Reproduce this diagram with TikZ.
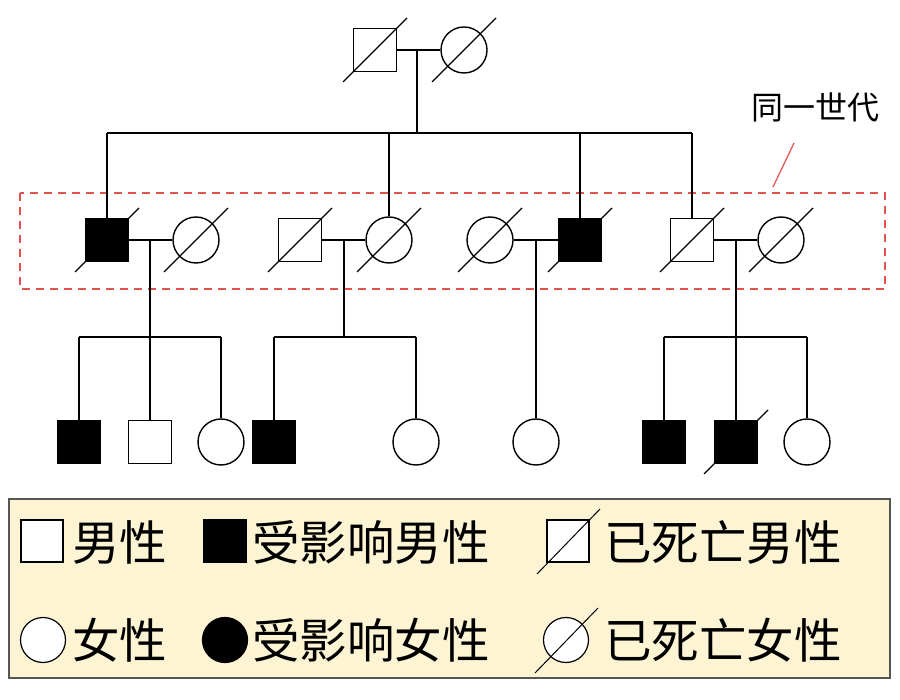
\documentclass[tikz,border=0pt]{standalone}
\usepackage{fontspec}
\setmainfont{Noto Sans CJK SC}
\definecolor{legfill}{RGB}{253,244,212}
\definecolor{legdraw}{RGB}{85,85,85}
\definecolor{gendash}{RGB}{228,80,80}
\tikzset{
  male/.style={draw, rectangle, minimum size=43pt, inner sep=0pt, line width=1.4pt, fill=white},
  female/.style={draw, circle, minimum size=46pt, inner sep=0pt, line width=1.4pt, fill=white},
  aff/.style={fill=black},
  lmale/.style={draw, rectangle, minimum size=42pt, inner sep=0pt, line width=1.2pt, fill=white},
  lfemale/.style={draw, circle, minimum size=45pt, inner sep=0pt, line width=1.2pt, fill=white},
  link/.style={line width=1.4pt},
  legtext/.style={anchor=west, inner sep=0pt, font=\fontsize{47.5pt}{50pt}\selectfont},
}
\newcommand{\deadmark}[1]{\draw[line width=1.4pt] ([shift={(-32,32)}]#1.center) -- ([shift={(32,-32)}]#1.center);}
\newcommand{\ldeadmark}[1]{\draw[line width=1pt] ([shift={(-31,33)}]#1.center) -- ([shift={(32,-32)}]#1.center);}
\begin{document}
\begin{tikzpicture}[x=1pt, y=-1pt]
\useasboundingbox (0,0) rectangle (900,700);
\fill[white] (0,0) rectangle (900,700);

% generation dashed box
\draw[gendash, line width=1.3pt, dash pattern=on 8pt off 6pt] (20,193) rectangle (885,289);
\coordinate (lblend) at (773,187);
\node[inner sep=0pt, font=\fontsize{32pt}{36pt}\selectfont] (lbl) at (815,107) {同一世代};
\draw[gendash, line width=1.2pt] (lblend) -- (794,143);

% generation 1
\node[male] (s0) at (375,50) {};
\node[female] (c0) at (464,50) {};
\deadmark{s0}\deadmark{c0}
\coordinate (m0) at (417,50);
\coordinate (b0) at (417,133);
\draw[link] (s0.east) -- (c0.west);
\draw[link] (m0) -- (b0);

% generation 2
\node[male,aff] (g1) at (107,240) {};
\node[female] (g2) at (196,240) {};
\node[male] (g3) at (300,240) {};
\node[female] (g4) at (389,240) {};
\node[female] (g5) at (490,240) {};
\node[male,aff] (g6) at (580,240) {};
\node[male] (g7) at (692,240) {};
\node[female] (g8) at (781,240) {};
\foreach \n in {g1,g2,g3,g4,g5,g6,g7,g8} {\deadmark{\n}}
\coordinate (t1) at (107,133);
\coordinate (t4) at (389,133);
\coordinate (t6) at (580,133);
\coordinate (t7) at (692,133);
\draw[link] (t1) -- (t7);
\draw[link] (t1) -- (g1.north);
\draw[link] (t4) -- (g4.north);
\draw[link] (t6) -- (g6.north);
\draw[link] (t7) -- (g7.north);

\draw[link] (g1.east) -- (g2.west);
\draw[link] (g3.east) -- (g4.west);
\draw[link] (g5.east) -- (g6.west);
\draw[link] (g7.east) -- (g8.west);

\coordinate (m1) at (150,240);
\coordinate (m2) at (344,240);
\coordinate (m3) at (536,240);
\coordinate (m4) at (736,240);
\coordinate (d1) at (150,337);
\coordinate (d2) at (344,337);
\coordinate (d4) at (736,337);

% generation 3
\node[male,aff] (k1) at (79,442) {};
\node[male] (k2) at (150,442) {};
\node[female] (k3) at (221,442) {};
\node[male,aff] (k4) at (274,442) {};
\node[female] (k5) at (416,442) {};
\node[female] (k6) at (536,442) {};
\node[male,aff] (k7) at (664,442) {};
\node[male,aff] (k8) at (736,442) {};
\node[female] (k9) at (807,442) {};
\deadmark{k8}

\coordinate (u1) at (79,337);
\coordinate (u3) at (221,337);
\coordinate (u4) at (274,337);
\coordinate (u5) at (416,337);
\coordinate (u7) at (664,337);
\coordinate (u9) at (807,337);

\draw[link] (m1) -- (d1);
\draw[link] (m2) -- (d2);
\draw[link] (m3) -- (k6.north);
\draw[link] (m4) -- (d4);
\draw[link] (u1) -- (u3);
\draw[link] (u4) -- (u5);
\draw[link] (u7) -- (u9);
\draw[link] (u1) -- (k1.north);
\draw[link] (d1) -- (k2.north);
\draw[link] (u3) -- (k3.north);
\draw[link] (u4) -- (k4.north);
\draw[link] (u5) -- (k5.north);
\draw[link] (u7) -- (k7.north);
\draw[link] (d4) -- (k8.north);
\draw[link] (u9) -- (k9.north);

% legend
\draw[fill=legfill, draw=legdraw, line width=1.5pt] (9,499) rectangle (890,678);
\node[lmale] (l1) at (42,541) {};
\node[legtext] (lt1) at (72,542) {男性};
\node[lmale,aff] (l2) at (225,541) {};
\node[legtext] (lt2) at (252,542) {受影响男性};
\node[lmale] (l3) at (568,541) {};
\ldeadmark{l3}
\node[legtext] (lt3) at (604,542) {已死亡男性};
\node[lfemale] (l4) at (43,640) {};
\node[legtext] (lt4) at (72,640) {女性};
\node[lfemale,aff] (l5) at (225,640) {};
\node[legtext] (lt5) at (252,640) {受影响女性};
\node[lfemale] (l6) at (566,640) {};
\ldeadmark{l6}
\node[legtext] (lt6) at (604,640) {已死亡女性};
\end{tikzpicture}
\end{document}
